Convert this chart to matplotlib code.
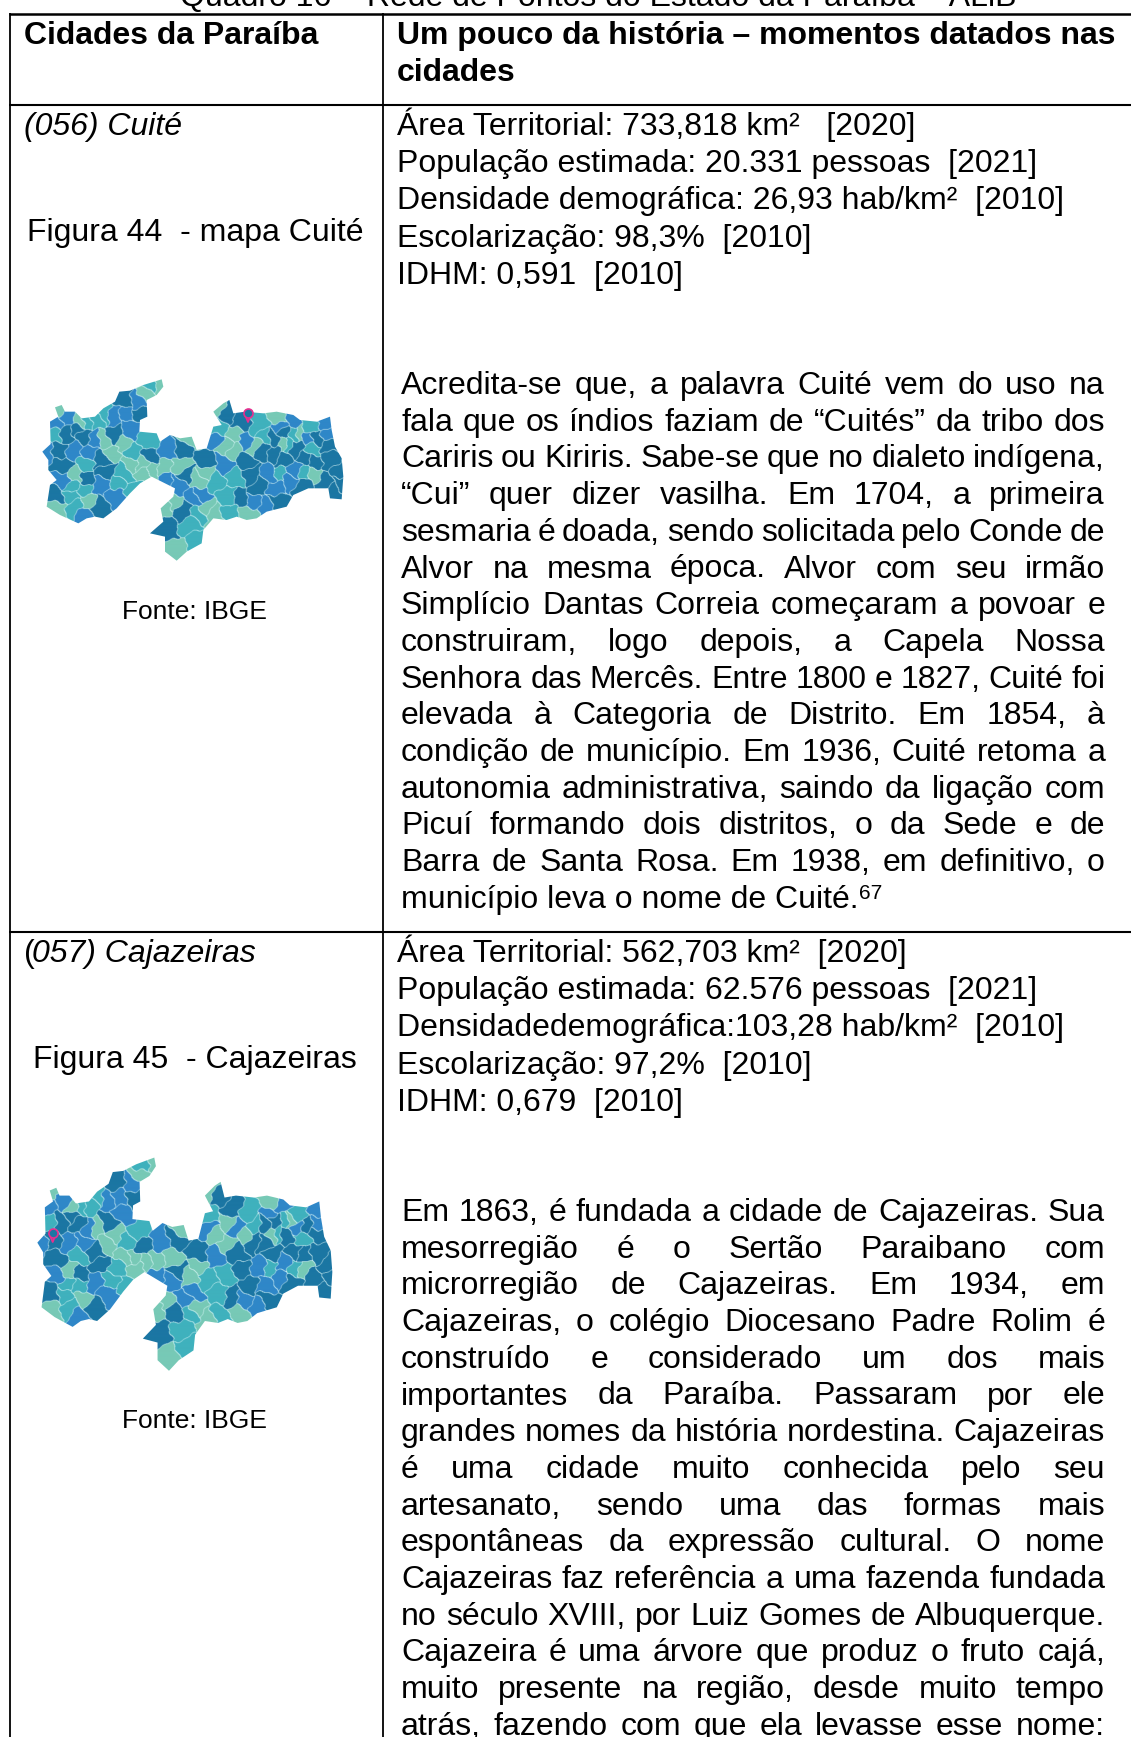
import matplotlib
matplotlib.use("Agg")
import matplotlib.pyplot as plt
from matplotlib.patches import Polygon
from matplotlib.colors import to_rgb
import numpy as np

W, H = 1131, 1737
FONT = "Liberation Sans"
BODY = 23.0

title = "Quadro 16 – Rede de Pontos do Estado da Paraíba – ALiB"
head_left = "Cidades da Paraíba"
head_right = ["Um pouco da história – momentos datados nas", "cidades"]

info_cuite = ["Área Territorial: 733,818 km²   [2020]",
              "População estimada: 20.331 pessoas  [2021]",
              "Densidade demográfica: 26,93 hab/km²  [2010]",
              "Escolarização: 98,3%  [2010]",
              "IDHM: 0,591  [2010]"]
info_caja = ["Área Territorial: 562,703 km²  [2020]",
             "População estimada: 62.576 pessoas  [2021]",
             "Densidadedemográfica:103,28 hab/km²  [2010]",
             "Escolarização: 97,2%  [2010]",
             "IDHM: 0,679  [2010]"]

text_cuite = ["Acredita-se que, a palavra Cuité vem do uso na",
              "fala que os índios faziam de “Cuités” da tribo dos",
              "Cariris ou Kiriris. Sabe-se que no dialeto indígena,",
              "“Cui” quer dizer vasilha. Em 1704, a primeira",
              "sesmaria é doada, sendo solicitada pelo Conde de",
              "Alvor na mesma época. Alvor com seu irmão",
              "Simplício Dantas Correia começaram a povoar e",
              "construiram, logo depois, a Capela Nossa",
              "Senhora das Mercês. Entre 1800 e 1827, Cuité foi",
              "elevada à Categoria de Distrito. Em 1854, à",
              "condição de município. Em 1936, Cuité retoma a",
              "autonomia administrativa, saindo da ligação com",
              "Picuí formando dois distritos, o da Sede e de",
              "Barra de Santa Rosa. Em 1938, em definitivo, o"]
last_cuite = "município leva o nome de Cuité."

text_caja = ["Em 1863, é fundada a cidade de Cajazeiras. Sua",
             "mesorregião é o Sertão Paraibano com",
             "microrregião de Cajazeiras. Em 1934, em",
             "Cajazeiras, o colégio Diocesano Padre Rolim é",
             "construído e considerado um dos mais",
             "importantes da Paraíba. Passaram por ele",
             "grandes nomes da história nordestina. Cajazeiras",
             "é uma cidade muito conhecida pelo seu",
             "artesanato, sendo uma das formas mais",
             "espontâneas da expressão cultural.  O nome",
             "Cajazeiras faz referência a uma fazenda fundada",
             "no século XVIII, por Luiz Gomes de Albuquerque.",
             "Cajazeira é uma árvore que produz o fruto cajá,",
             "muito presente na região, desde muito tempo",
             "atrás, fazendo com que ela levasse esse nome:"]

# map outline and municipality seeds (zoom pixels)
outline = [(127,245),(152,222),(150,155),(175,140),(165,112),(185,105),(195,125),(225,125),
           (245,145),(285,140),(310,115),(345,95),(358,65),(390,62),(430,45),(485,28),(490,50),
           (470,75),(440,90),(442,140),(420,150),(418,185),(470,190),(480,215),(510,195),
           (540,205),(575,200),(590,240),(620,235),(640,170),(665,165),(640,125),(670,100),
           (688,90),(700,130),(735,125),(790,130),(830,125),(880,135),(900,150),(950,155),
           (990,140),(995,180),(1005,230),(1025,265),(1030,320),(1025,388),(990,385),(985,355),
           (925,355),(880,375),(860,410),(800,425),(770,445),(740,450),(710,440),(680,450),
           (640,445),(610,480),(605,520),(560,545),(530,572),(495,545),(495,500),(450,490),
           (490,455),(482,415),(520,380),(525,355),(495,340),(455,320),(420,340),(390,370),
           (350,415),(310,445),(285,440),(260,445),(235,460),(180,435),(140,410),(150,345),
           (170,330),(145,300),(145,270)]
dark = [(364,91),(413,131),(172,241),(182,286),(196,191),(246,196),(339,196),(300,271),(314,301),
        (250,326),(165,375),(295,410),(540,231),(442,256),(545,316),(540,420),(490,475),(230,180),
        (668,125),(713,160),(613,275),(723,275),(763,350),(708,385),(813,390),(808,200),(838,185),
        (813,250),(833,270),(773,240),(738,315),(973,270),(953,335),(1003,300),(923,275),(903,265),
        (893,345),(873,230),(968,220),(933,205),(988,365),(1010,340)]
mid = [(157,161),(201,136),(334,136),(373,131),(383,171),(408,96),(137,246),(221,246),(261,246),
       (280,211),(182,326),(300,346),(496,241),(486,331),(525,341),(335,375),(250,430),
       (723,210),(658,280),(638,205),(868,300),(798,310),(858,150),(968,155),(968,200),(908,205),
       (745,395),(790,405),(813,355),(853,330),(590,375),(830,170),(575,385)]
teal = [(308,131),(253,151),(283,146),(432,216),(393,246),(344,336),(216,351),(250,276),(162,191),
        (447,46),(210,375),(250,355),(225,410),(400,360),(365,310),
        (640,180),(635,335),(695,325),(675,375),(675,430),(590,425),(580,510),(780,200),(760,170),
        (910,175),(875,190),(920,235),(825,310),(900,310),(845,225),(560,465)]
light = [(467,41),(437,76),(304,211),(334,246),(359,226),(388,281),(417,281),(481,291),(452,296),
         (555,211),(177,116),(236,156),(165,415),(425,310),(510,400),(520,540),(490,410),(530,290),
         (260,390),(225,320),
         (645,115),(700,195),(690,245),(755,225),(830,145),(610,305),(635,440),(735,425),(585,330),
         (665,225),(880,190),(925,315),(840,225),(600,415)]
class_colors = ["#1b76a3", "#2f87c8", "#3fb1bd", "#77c9b6"]
pin_cuite = (248, 416)
pin_caja = (52.7, 1236)


def map1_xy(a, b):
    return a / 3, 370 + b / 3


def map2_xy(a, b):
    x, y = map1_xy(a, b)
    return 37 + (x - 42) * 295 / 301, 1156 + (y - 378) * 214 / 182


def draw_map(ax, to_xy, pin):
    seeds = []
    labels = []
    for i, group in enumerate([dark, mid, teal, light]):
        # seeds were read at a slightly different zoom than the outline
        seeds += [to_xy(a * 1.017, b) for a, b in group]
        labels += [i] * len(group)
    seeds = np.array(seeds)
    labels = np.array(labels)
    poly = np.array([to_xy(a, b) for a, b in outline])
    x0, y0 = poly.min(axis=0) - 2
    x1, y1 = poly.max(axis=0) + 2
    xs = np.arange(x0, x1, 0.5)
    ys = np.arange(y0, y1, 0.5)
    gx, gy = np.meshgrid(xs, ys)
    # wobble so that the borders do not come out ruler straight
    wx = gx + 1.6 * np.sin(gy / 3.1) + 0.8 * np.sin(gy / 1.3)
    wy = gy + 1.6 * np.sin(gx / 3.7) + 0.8 * np.sin(gx / 1.7)
    d = (wx[..., None] - seeds[:, 0]) ** 2 + (wy[..., None] - seeds[:, 1]) ** 2
    near = d.argmin(axis=2)
    colors = np.array([to_rgb(c) for c in class_colors])[labels]
    img = colors[near]
    # pale lines where two municipalities meet
    edge = np.zeros(near.shape, bool)
    edge[:, 1:] |= near[:, 1:] != near[:, :-1]
    edge[1:, :] |= near[1:, :] != near[:-1, :]
    img[edge] = (0.86, 0.97, 0.97)
    im = ax.imshow(img, extent=(x0, x1, y1, y0), interpolation="bilinear", aspect="auto", zorder=2)
    patch = Polygon(poly, closed=True, transform=ax.transData, facecolor="none", edgecolor="none")
    ax.add_patch(patch)
    im.set_clip_path(patch)
    # location pin
    px, py = pin
    ax.plot([px - 3.3, px, px + 3.3], [py - 2, py + 6, py - 2], color="#e5308f", lw=1.3, zorder=4)
    ax.plot(px, py - 3, "o", ms=6.5, mfc="#1b76a3", mec="#e5308f", mew=1.2, zorder=5)


fig = plt.figure(figsize=(W / 100, H / 100), dpi=100)
ax = fig.add_axes([0, 0, 1, 1])
ax.set_xlim(0, W)
ax.set_ylim(H, 0)
ax.axis("off")
renderer = fig.canvas.get_renderer()


def put(x, y, s, **kw):
    kw.setdefault("fontsize", BODY)
    kw.setdefault("family", FONT)
    kw.setdefault("color", "black")
    return ax.text(x, y, s, va="baseline", **kw)


def justified(x0, x1, y, s):
    words = s.split()
    widths = []
    for w in words:
        t = put(0, 0, w)
        widths.append(t.get_window_extent(renderer).width)
        t.remove()
    gap = (x1 - x0 - sum(widths)) / (len(words) - 1)
    x = x0
    for w, wd in zip(words, widths):
        put(x, y, w)
        x += wd + gap


# grid lines
LEFT, MID = 9.5, 383
for y, lw in [(14, 1.8), (105, 1.5), (932, 1.5)]:
    ax.plot([LEFT - 1, W], [y, y], color="black", lw=lw, solid_capstyle="butt", zorder=3)
for x in (LEFT, MID):
    ax.plot([x, x], [13, H], color="black", lw=1.3, solid_capstyle="butt", zorder=3)

put(598.5, 6, title, ha="center")

put(24, 44, head_left, fontweight="bold")
put(397, 44, head_right[0], fontweight="bold")
put(397, 81, head_right[1], fontweight="bold")

PITCH = 37.2
PARA = 36.7
put(24, 135, "(056) Cuité", style="italic")
put(195, 241, "Figura 44  - mapa Cuité", ha="center")
put(195, 619, "Fonte: IBGE", ha="center", fontsize=19)
for i, s in enumerate(info_cuite):
    put(397, 135 + i * PITCH, s)
for i, s in enumerate(text_cuite):
    justified(401, 1105, 394 + i * PARA, s)
t = put(401, 394 + 14 * PARA, last_cuite)
end = t.get_window_extent(renderer).x1
put(end + 1, 394 + 14 * PARA - 9, "67", fontsize=15)

put(24, 962, "(")
put(32, 962, "057) Cajazeiras", style="italic")
put(195, 1068, "Figura 45  - Cajazeiras", ha="center")
put(195, 1428, "Fonte: IBGE", ha="center", fontsize=19)
for i, s in enumerate(info_caja):
    put(397, 962 + i * PITCH, s)
for i, s in enumerate(text_caja):
    justified(401, 1105, 1221 + i * PARA, s)

draw_map(ax, map1_xy, pin_cuite)
draw_map(ax, map2_xy, pin_caja)
ax.set_xlim(0, W)
ax.set_ylim(H, 0)

fig.savefig("out.png", dpi=100)
